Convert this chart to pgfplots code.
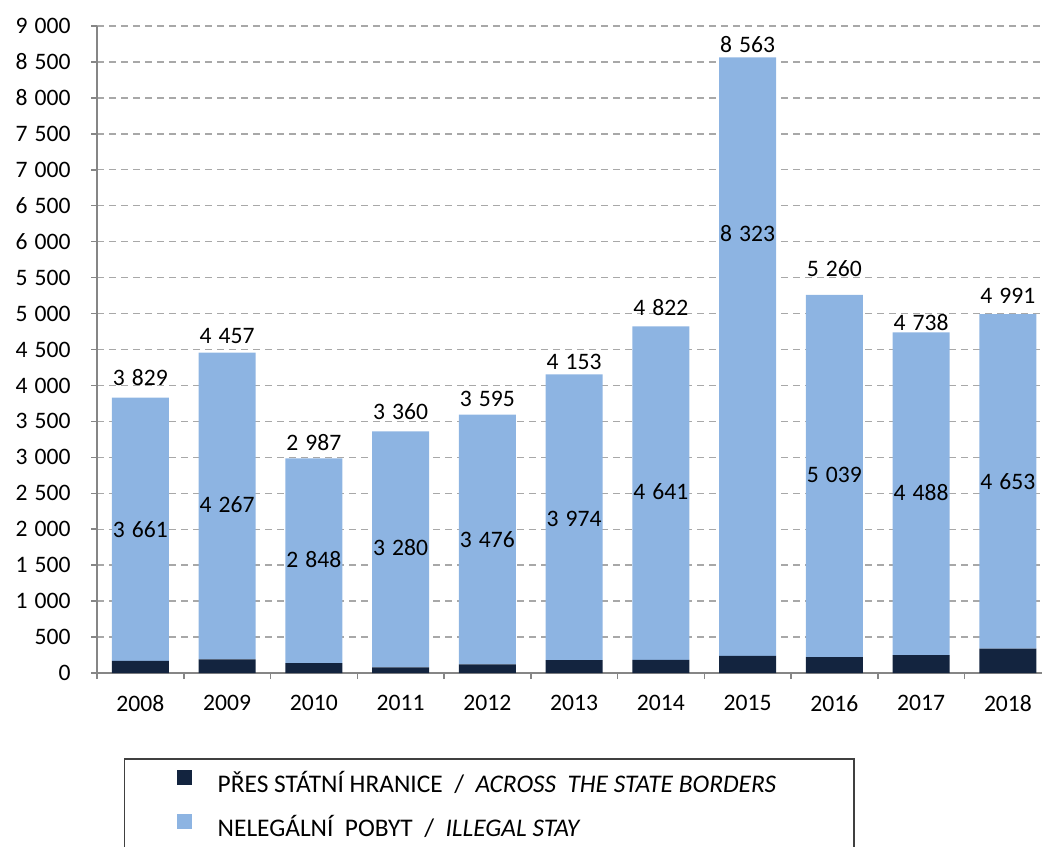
\documentclass[border=0pt]{standalone}
\usepackage{pgfplots}
\usepackage{pgfplotstable}
\pgfplotsset{compat=1.18}
\usepackage{fontspec}
\setmainfont{Carlito}

\definecolor{borderc}{RGB}{19,36,63}
\definecolor{stayc}{RGB}{141,180,226}
\definecolor{gridc}{RGB}{168,168,168}
\definecolor{axisc}{RGB}{134,134,134}

% apprehended persons: across the borders / illegal stay
\pgfplotstableread{
x border stay
0  168 3661
1  190 4267
2  139 2848
3   80 3280
4  119 3476
5  179 3974
6  181 4641
7  240 8323
8  221 5039
9  250 4488
10 338 4653
}\data

\newcommand{\lblfont}{\fontsize{11.8}{14}\selectfont}

\pgfplotsset{
  base/.style={
    scale only axis, width=472.5pt, height=323.5pt,
    xmin=-0.5, xmax=10.393, ymin=0, ymax=9000,
  },
  lbl/.style={draw=none, mark=none, nodes near coords, point meta=explicit,
    nodes near coords={\pgfmathprintnumber{\pgfplotspointmeta}},
    every node near coord/.append style={font=\lblfont, inner sep=0pt, text=black}},
  /pgf/number format/.cd, 1000 sep={\hspace{0.3em}}, assume math mode=true
}

\begin{document}
\begin{tikzpicture}
\useasboundingbox (-48.5pt,-86.5pt) rectangle (472.5pt,336.5pt);
\begin{axis}[base,
  ybar stacked, bar width=28.5pt,
  axis x line*=bottom, axis y line*=left,
  axis line style={axisc, line width=0.75pt},
  tick style={axisc, line width=0.75pt},
  tick align=outside, major tick length=3pt,
  xtick={-0.5,0.5,...,9.5}, xticklabels={},
  extra x ticks={0,...,10},
  extra x tick labels={2008,2009,2010,2011,2012,2013,2014,2015,2016,2017,2018},
  extra x tick style={major tick length=0pt, grid=none},
  ytick={0,500,...,9000}, ymajorgrids,
  grid style={gridc, dash pattern=on 3.5pt off 2.5pt, line width=0.7pt},
  ticklabel style={font=\lblfont, text=black},
  yticklabel style={anchor=east, inner sep=0pt, xshift=-10pt},
  xticklabel style={anchor=north, inner sep=0pt, yshift=-11pt},
  legend style={at={(axis description cs:0.02857,-0.1314)}, anchor=north west,
    draw=black!75, line width=0.75pt, font=\fontsize{12.7}{15}\selectfont,
    inner xsep=26pt, inner ysep=5.5pt, row sep=10.8pt, column sep=13pt,
    nodes={inner sep=0pt, text height=7.7pt, text depth=0pt},
    cells={anchor=west}},
  legend image code/.code={\fill[#1] (0pt,0pt) rectangle (7.5pt,7.5pt);},
]
\addplot[fill=borderc, draw=none] table[x=x, y=border] {\data};
\addplot[fill=stayc, draw=none] table[x=x, y=stay] {\data};
\legend{PŘES STÁTNÍ HRANICE\ \ /\ \ \textit{ACROSS\ \ THE STATE BORDERS}\hspace*{13pt},
  NELEGÁLNÍ\ \ POBYT\ \ /\ \ \textit{ILLEGAL STAY}}
\end{axis}
\begin{axis}[base, hide axis]
% totals above the bars (y = label baseline)
\addplot[lbl, every node near coord/.append style={anchor=base}] coordinates {
  (0,4006) [3829] (1,4577) [4457] (2,3102) [2987] (3,3533) [3360]
  (4,3714) [3595] (5,4222) [4153] (6,4967) [4822] (7,8634) [8563]
  (8,5515) [5260] (9,4759) [4738] (10,5141) [4991]};
% illegal stay values inside the bars
\addplot[lbl, every node near coord/.append style={anchor=center}] coordinates {
  (0,1989) [3661] (1,2337) [4267] (2,1572) [2848] (3,1739) [3280]
  (4,1850) [3476] (5,2142) [3974] (6,2518) [4641] (7,6120) [8323]
  (8,2754) [5039] (9,2504) [4488] (10,2657) [4653]};
\end{axis}
\end{tikzpicture}
\end{document}
